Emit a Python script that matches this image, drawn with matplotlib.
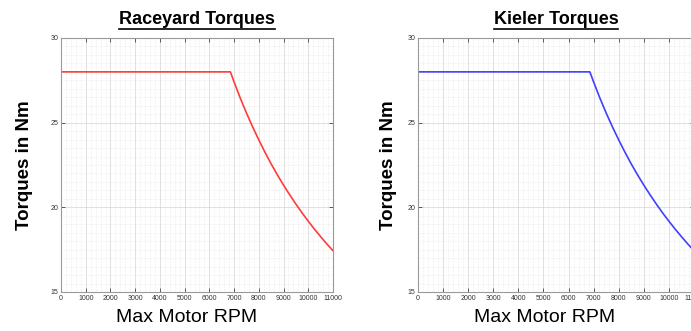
import matplotlib.pyplot as plt
from matplotlib.ticker import MultipleLocator

plt.rcParams['font.family'] = ['Liberation Sans', 'DejaVu Sans']

# torque curve (rpm, Nm)
rpm = [0, 1000, 2000, 3000, 4000, 5000, 6000, 6850, 7000, 7250, 7500, 7750,
       8000, 8250, 8500, 8750, 9000, 9250, 9500, 9750, 10000, 10250, 10500,
       10750, 11000]
torque_raceyard = [28, 28, 28, 28, 28, 28, 28, 28, 27.4, 26.45, 25.57, 24.75,
                   23.98, 23.25, 22.56, 21.92, 21.31, 20.74, 20.19, 19.67,
                   19.18, 18.71, 18.27, 17.84, 17.44]
torque_kieler = [28, 28, 28, 28, 28, 28, 28, 28, 27.4, 26.45, 25.57, 24.75,
                 23.98, 23.25, 22.56, 21.92, 21.31, 20.74, 20.19, 19.67,
                 19.18, 18.71, 18.27, 17.84, 17.44]

# title, data, colour, axes left px, axes width px, ylabel offset px
panels = [
    ("Raceyard Torques", torque_raceyard, "#ff3b3b", 61, 272, 28),
    ("Kieler Torques", torque_kieler, "#4040ff", 418, 276, 21),
]

W, H = 691, 331
fig = plt.figure(figsize=(W / 100, H / 100), dpi=100)

for title, tq, color, x0, w, yoff in panels:
    ax = fig.add_axes([x0 / W, (331 - 292) / H, w / W, 254 / H])
    ax.plot(rpm, tq, color=color, lw=1.2)
    ax.set_xlim(0, 11000)
    ax.set_ylim(15, 30)
    ax.xaxis.set_major_locator(MultipleLocator(1000))
    ax.xaxis.set_minor_locator(MultipleLocator(200))
    ax.yaxis.set_major_locator(MultipleLocator(5))
    ax.yaxis.set_minor_locator(MultipleLocator(0.5))
    ax.grid(which='major', color='#d4d4d4', lw=0.5)
    ax.grid(which='minor', color='#dcdcdc', lw=0.4, ls=':')
    ax.tick_params(which='major', direction='in', top=True, right=True,
                   length=3, width=0.6, color='#444444', labelsize=5,
                   labelcolor='#333333', pad=2)
    ax.tick_params(which='minor', length=0)
    for s in ax.spines.values():
        s.set_color('#999999')
        s.set_linewidth(0.8)
    ax.set_title(title, fontsize=13, fontweight='bold', pad=10)
    ax.set_xlabel("Max Motor RPM", fontsize=14)
    ax.set_ylabel("Torques in Nm", fontsize=13.5, fontweight='bold')
    ax.yaxis.set_label_coords(-yoff / w, 0.5)
    ax.xaxis.set_label_coords(0.46, -0.066)

# underline the titles like the original
fig.canvas.draw()
r = fig.canvas.get_renderer()
for ax in fig.axes:
    bb = ax.title.get_window_extent(r)
    y = (bb.y0 - 1) / H
    fig.add_artist(plt.Line2D([bb.x0 / W, bb.x1 / W], [y, y],
                              transform=fig.transFigure, color='black', lw=1.2))

fig.savefig("out.png", dpi=100)
